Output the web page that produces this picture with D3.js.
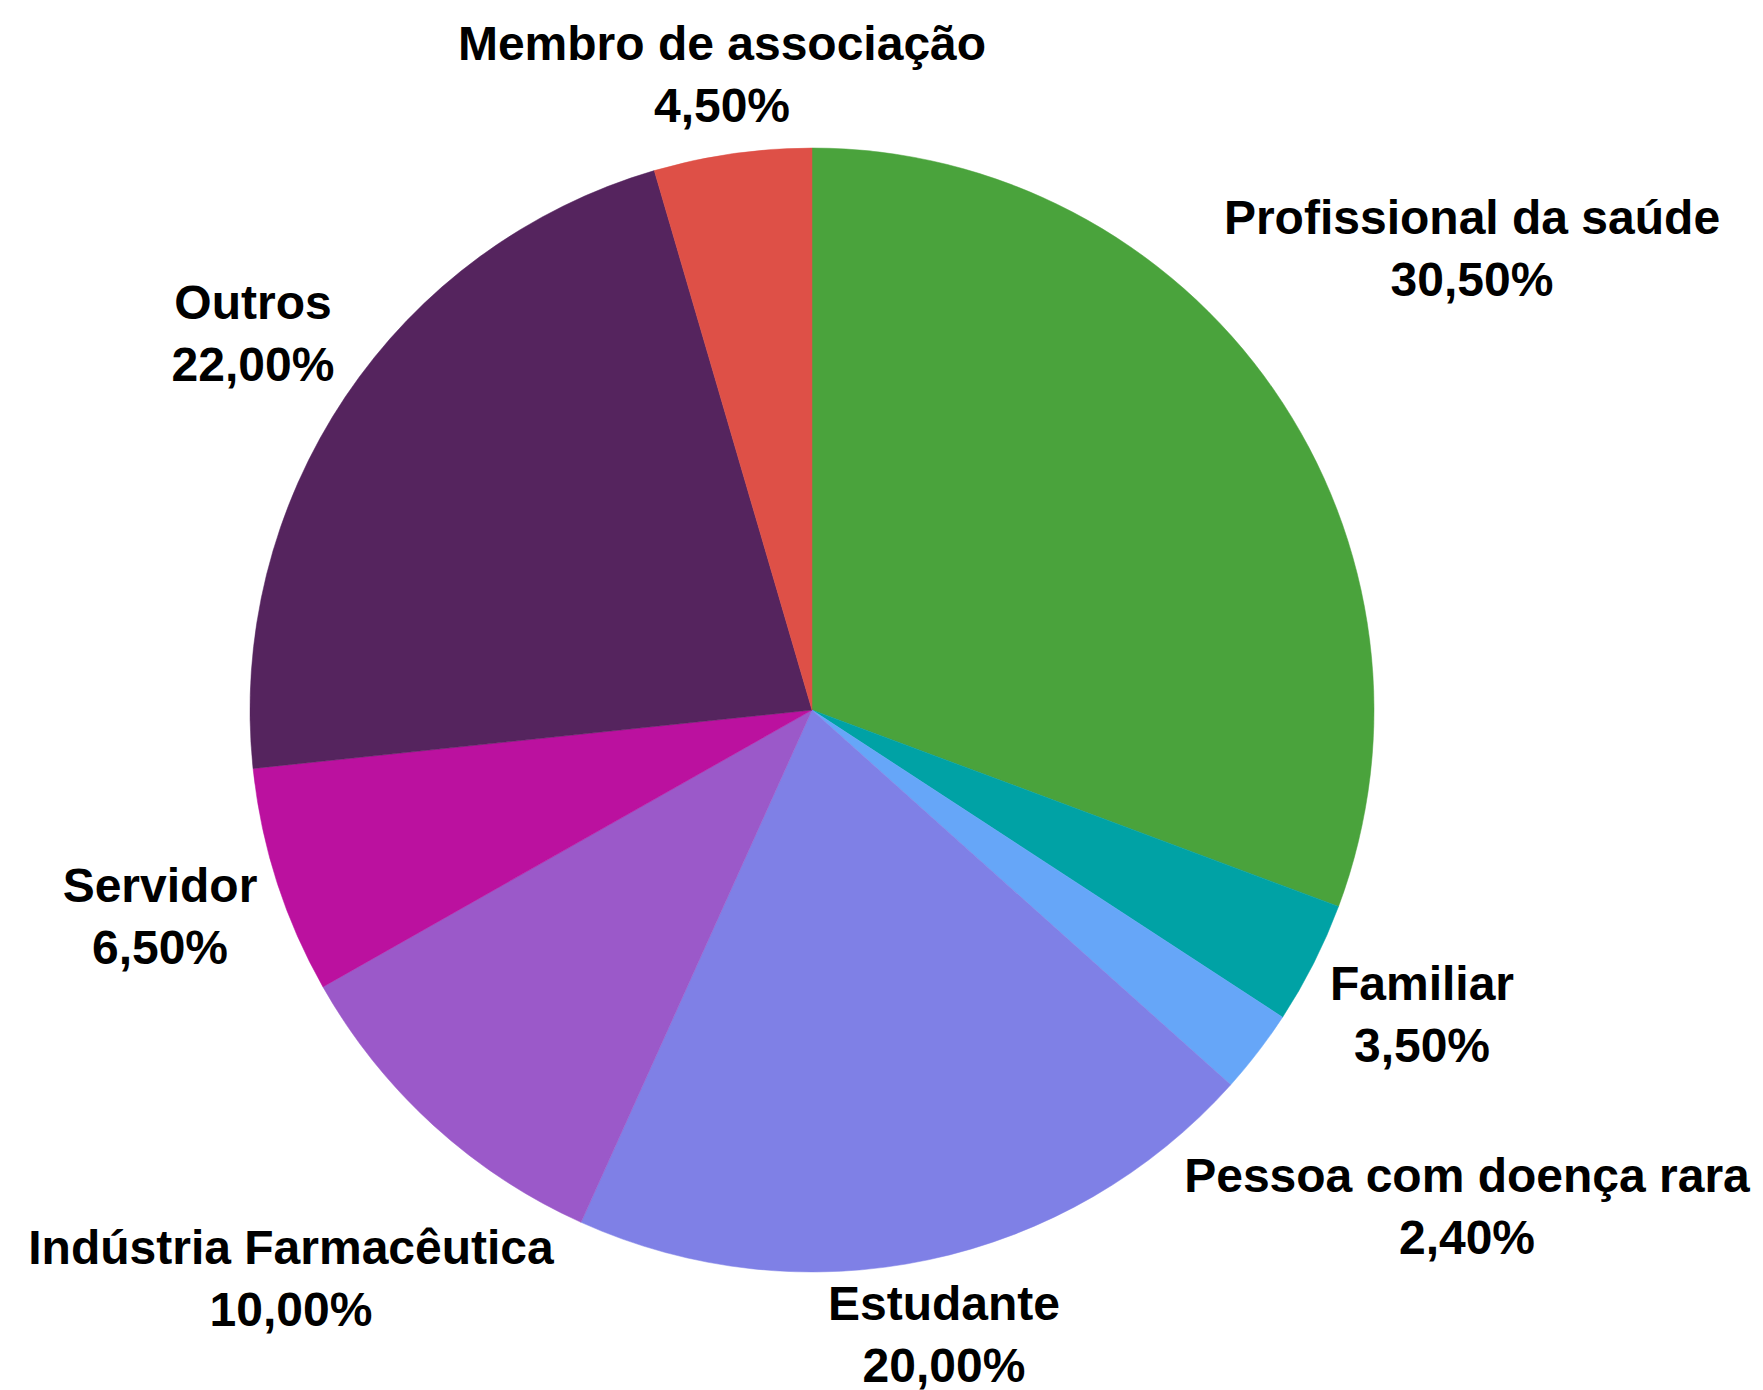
<!DOCTYPE html>
<html>
<head>
<meta charset="utf-8">
<script src="https://cdn.jsdelivr.net/npm/d3@7"></script>
<style>
  html, body { margin: 0; padding: 0; background: #ffffff; }
  svg { display: block; }
  text { font-family: "Liberation Sans", Arial, sans-serif; font-weight: bold; fill: #000; }
</style>
</head>
<body>
<svg id="chart" width="1763" height="1390"></svg>
<script>
// ---- data ----
const categories = [
  "Profissional da saúde",
  "Familiar",
  "Pessoa com doença rara",
  "Estudante",
  "Indústria Farmacêutica",
  "Servidor",
  "Outros",
  "Membro de associação"
];
const values = [30.5, 3.5, 2.4, 20.0, 10.0, 6.5, 22.0, 4.5];
const percentLabels = ["30,50%", "3,50%", "2,40%", "20,00%", "10,00%", "6,50%", "22,00%", "4,50%"];
const colors = ["#4aa33c", "#00a2a5", "#66a6f8", "#7f80e6", "#9b59c9", "#bb119f", "#55245e", "#de5047"];

// ---- layout (label anchor: centre x, first baseline y) ----
const labelPos = [
  [1472, 234],
  [1422, 1000],
  [1467, 1192],
  [944, 1320],
  [291, 1264],
  [160, 902],
  [253, 319],
  [722, 60]
];
const lineGap = 62;

const W = 1763, H = 1390;
const cx = 812, cy = 710, R = 562;

const svg = d3.select("#chart");
const data = categories.map((c, i) => ({ name: c, value: values[i], pct: percentLabels[i], color: colors[i], pos: labelPos[i] }));

const pie = d3.pie().value(d => d.value).sort(null).startAngle(0).endAngle(2 * Math.PI);
const arc = d3.arc().innerRadius(0).outerRadius(R);

const g = svg.append("g").attr("transform", `translate(${cx},${cy})`);
g.selectAll("path")
  .data(pie(data))
  .join("path")
  .attr("d", arc)
  .attr("fill", d => d.data.color)
  .attr("stroke", d => d.data.color)
  .attr("stroke-width", 0.5);

const labels = svg.append("g").selectAll("text")
  .data(data)
  .join("text")
  .attr("text-anchor", "middle")
  .attr("font-size", 48)
  .attr("x", d => d.pos[0])
  .attr("y", d => d.pos[1]);
labels.append("tspan").attr("x", d => d.pos[0]).text(d => d.name);
labels.append("tspan").attr("x", d => d.pos[0]).attr("dy", lineGap).text(d => d.pct);
</script>
</body>
</html>
